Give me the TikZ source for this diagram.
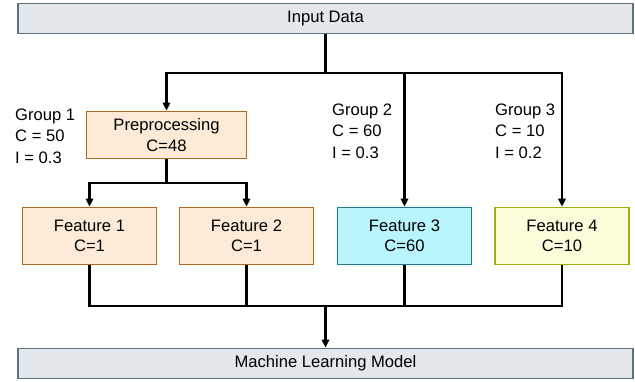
\documentclass[tikz,border=0pt]{standalone}
\usepackage{fontspec}
\setmainfont{Liberation Sans}
\usetikzlibrary{arrows.meta}

\definecolor{barfill}{HTML}{E2E8EC}
\definecolor{barline}{HTML}{5F717C}
\definecolor{orfill}{HTML}{FDEBD8}
\definecolor{orline}{HTML}{B0661C}
\definecolor{cyfill}{HTML}{B8F5FD}
\definecolor{cyline}{HTML}{1C7C88}
\definecolor{ylfill}{HTML}{FDFDDC}
\definecolor{ylline}{HTML}{A2AC12}

\tikzset{
  txt/.style={font=\fontsize{16.6}{20.5}\selectfont},
  bar/.style={txt, draw=barline, fill=barfill, line width=1.8pt,
    minimum width=615pt, minimum height=30pt, inner sep=0pt},
  box/.style={txt, draw, line width=1.8pt, align=center, inner sep=0pt,
    minimum width=134pt, minimum height=57pt},
  orbox/.style={box, draw=orline, fill=orfill},
  cybox/.style={box, draw=cyline, fill=cyfill},
  ylbox/.style={box, draw=ylline, fill=ylfill},
  grouplabel/.style={font=\fontsize{16.6}{21.5}\selectfont, align=left,
    anchor=west, inner sep=0pt},
  wire/.style={line width=2.8pt, black},
  feed/.style={wire, -{Triangle[length=8pt,width=7.5pt]}}
}

\begin{document}
\begin{tikzpicture}[x=1pt, y=-1pt, line join=miter]
  \useasboundingbox (0,0) rectangle (635,381);

  % top and bottom bars
  \node[bar] (input) at (325.5,18.5) {Input Data};
  \node[bar] (model) at (325.5,363.5) {Machine Learning Model};

  % processing blocks
  \node[orbox, minimum width=160pt, minimum height=47pt] (pre) at (166.5,135) {Preprocessing\\C=48};
  \node[orbox] (f1) at (89.5,236) {Feature 1\\C=1};
  \node[orbox] (f2) at (246.5,236) {Feature 2\\C=1};
  \node[cybox] (f3) at (404.5,236) {Feature 3\\C=60};
  \node[ylbox] (f4) at (562,236) {Feature 4\\C=10};

  % group annotations
  \node[grouplabel] (g1) at (15,136) {Group 1\\C = 50\\I = 0.3};
  \node[grouplabel] (g2) at (332,131) {Group 2\\C = 60\\I = 0.3};
  \node[grouplabel] (g3) at (495,131) {Group 3\\C = 10\\I = 0.2};

  % junction points
  \coordinate (fork) at (325.5,73);
  \coordinate (split) at (166.5,183);
  \coordinate (merge) at (325.5,306);

  % distribution from the input
  \draw[wire] (input.south) -- (fork);
  \draw[feed] (fork) -| (pre.north);
  \draw[feed] (fork) -| (f3.north);
  \draw[feed] (fork) -| (f4.north);

  % preprocessing into features 1 and 2
  \draw[wire] (pre.south) -- (split);
  \draw[feed] (split) -| (f1.north);
  \draw[feed] (split) -| (f2.north);

  % collection into the model
  \draw[wire] (f1.south) |- (merge);
  \draw[wire] (f2.south) |- (merge);
  \draw[wire] (f3.south) |- (merge);
  \draw[wire] (f4.south) |- (merge);
  \draw[feed] (merge) -- (model.north);
\end{tikzpicture}
\end{document}
